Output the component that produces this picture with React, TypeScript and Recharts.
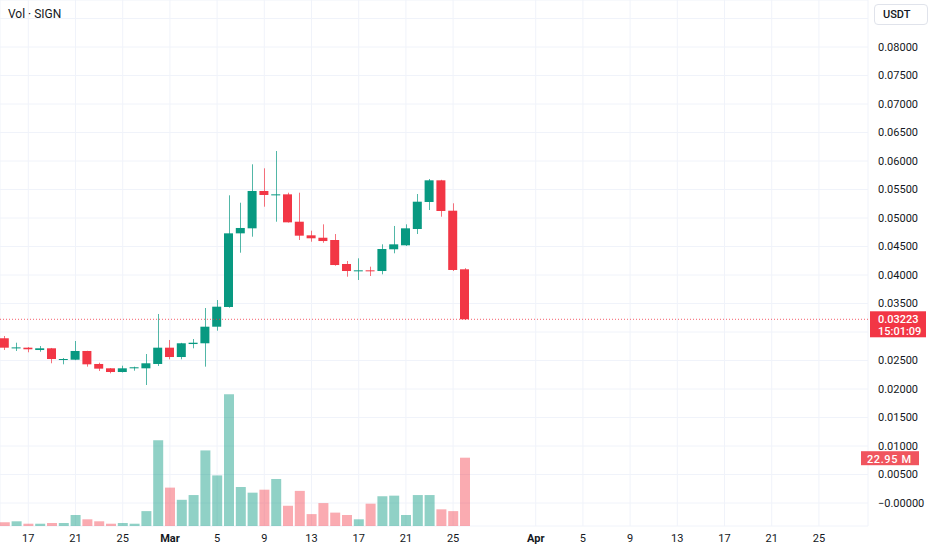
import { ComposedChart, Bar, XAxis, YAxis, CartesianGrid, ReferenceLine, Cell } from "recharts";

const GREEN = "#089981";
const RED = "#f23645";
const TEXT = "#131722";

// daily candles, Feb 15 – Mar 26
const dates = [
  "Feb 15", "Feb 16", "Feb 17", "Feb 18", "Feb 19", "Feb 20", "Feb 21", "Feb 22", "Feb 23", "Feb 24",
  "Feb 25", "Feb 26", "Feb 27", "Feb 28", "Mar 1", "Mar 2", "Mar 3", "Mar 4", "Mar 5", "Mar 6",
  "Mar 7", "Mar 8", "Mar 9", "Mar 10", "Mar 11", "Mar 12", "Mar 13", "Mar 14", "Mar 15", "Mar 16",
  "Mar 17", "Mar 18", "Mar 19", "Mar 20", "Mar 21", "Mar 22", "Mar 23", "Mar 24", "Mar 25", "Mar 26",
];
const opens = [
  0.0289, 0.0272, 0.02725, 0.02684, 0.02714, 0.02514, 0.02514, 0.02667, 0.02439, 0.02363,
  0.02298, 0.02363, 0.02363, 0.02439, 0.02725, 0.02561, 0.02789, 0.02802, 0.03093, 0.03439,
  0.04731, 0.04819, 0.05474, 0.05398, 0.05415, 0.04935, 0.04696, 0.04654, 0.04614, 0.04193,
  0.04065, 0.04082, 0.0407, 0.04451, 0.04521, 0.04807, 0.05281, 0.05661, 0.05128, 0.041,
];
const highs = [
  0.0293, 0.02812, 0.02735, 0.02754, 0.0272, 0.02544, 0.02842, 0.0267, 0.02461, 0.02368,
  0.02409, 0.02392, 0.02614, 0.03316, 0.0286, 0.0281, 0.02877, 0.03421, 0.03561, 0.05398,
  0.05268, 0.05942, 0.05872, 0.06175, 0.05444, 0.05444, 0.04777, 0.04889, 0.04719, 0.04246,
  0.04293, 0.04146, 0.04538, 0.0486, 0.04889, 0.05421, 0.05684, 0.0567, 0.05258, 0.0412,
];
const lows = [
  0.02684, 0.02667, 0.02644, 0.02654, 0.02451, 0.02433, 0.02505, 0.02392, 0.02316, 0.02275,
  0.0229, 0.02321, 0.0207, 0.02404, 0.02521, 0.02521, 0.02714, 0.02392, 0.03023, 0.03426,
  0.04391, 0.04672, 0.05198, 0.04935, 0.0492, 0.04614, 0.04584, 0.04566, 0.04163, 0.0397,
  0.03912, 0.03982, 0.04012, 0.04381, 0.04509, 0.04719, 0.0514, 0.05023, 0.0407, 0.0321,
];
const closes = [
  0.02725, 0.0273, 0.02697, 0.02714, 0.02526, 0.02526, 0.02667, 0.02433, 0.02357, 0.02298,
  0.02363, 0.02381, 0.02451, 0.02725, 0.02561, 0.02802, 0.02812, 0.03093, 0.03444, 0.04731,
  0.04825, 0.05474, 0.05404, 0.05415, 0.04924, 0.0469, 0.04644, 0.04596, 0.04175, 0.0407,
  0.04082, 0.04065, 0.04456, 0.04538, 0.04819, 0.05286, 0.05661, 0.05123, 0.04088, 0.03223,
];
// volume in millions
const volumes = [
  1.24, 1.58, 0.77, 0.77, 1.0, 1.0, 3.7, 2.25, 1.58, 0.77,
  1.0, 0.77, 5.0, 28.8, 12.9, 8.8, 10.4, 25.4, 17.0, 44.3,
  13.1, 11.2, 12.2, 15.8, 6.8, 11.8, 4.0, 7.7, 4.5, 3.7,
  2.25, 7.5, 10.0, 10.2, 3.7, 10.4, 10.4, 5.6, 5.0, 22.95,
];

const priceTicks = [
  0, 0.005, 0.01, 0.015, 0.02, 0.025, 0.03, 0.035, 0.04, 0.045,
  0.05, 0.055, 0.06, 0.065, 0.07, 0.075, 0.08, 0.085,
];
const hiddenPriceLabels = [0.03, 0.085];
// day index 0 = Feb 15
const dayTicks = [2, 6, 10, 14, 18, 22, 26, 30, 34, 38, 45, 49, 53, 57, 61, 65, 69];
const dayTickLabels = ["17", "21", "25", "Mar", "5", "9", "13", "17", "21", "25", "Apr", "5", "9", "13", "17", "21", "25"];

const lastPrice = 0.03223;
const lastVolume = 22.95;
const countdown = "15:01:09";

const rows = dates.map((date, i) => ({
  day: i,
  date,
  open: opens[i],
  high: highs[i],
  low: lows[i],
  close: closes[i],
  range: [lows[i], highs[i]],
  vol: volumes[i],
  up: closes[i] >= opens[i],
}));

function Candle(props: any) {
  const { x, y, width, height, payload } = props;
  if (!payload || !height) return null;
  const color = payload.up ? GREEN : RED;
  const perUnit = height / (payload.high - payload.low);
  const yOf = (v: number) => y + (payload.high - v) * perUnit;
  const top = yOf(Math.max(payload.open, payload.close));
  const bottom = yOf(Math.min(payload.open, payload.close));
  const cx = Math.round(x + width / 2) + 0.5;
  return (
    <g>
      <line x1={cx} x2={cx} y1={y} y2={y + height} stroke={color} strokeOpacity={0.7} strokeWidth={1} />
      <rect x={x} y={top} width={width} height={Math.max(1, bottom - top)} fill={color} />
    </g>
  );
}

function PriceTick(props: any) {
  const { x, y, payload } = props;
  const v = payload.value;
  if (hiddenPriceLabels.some((h) => Math.abs(h - v) < 1e-9)) return null;
  const label = Math.abs(v) < 1e-9 ? "−0.00000" : v.toFixed(5);
  return (
    <text x={x} y={y} dy="0.35em" fill={TEXT} fontSize={11} textAnchor="start">
      {label}
    </text>
  );
}

function DayTick(props: any) {
  const { x, y, payload } = props;
  const idx = dayTicks.indexOf(payload.value);
  const label = dayTickLabels[idx] ?? "";
  const isMonth = label === "Mar" || label === "Apr";
  return (
    <text x={x} y={y} dy="0.71em" fill={TEXT} fontSize={11} textAnchor="middle" fontWeight={isMonth ? 700 : 400}>
      {label}
    </text>
  );
}

function PriceLabel(props: any) {
  const vb = props.viewBox;
  if (!vb) return null;
  const left = vb.x + vb.width + 2;
  return (
    <g>
      <rect x={left} y={vb.y - 8} width={56} height={26} fill={RED} />
      <text x={left + 8} y={vb.y} dy="0.35em" fill="#fff" fontSize={11} fontWeight={500}>
        {lastPrice.toFixed(5)}
      </text>
      <text x={left + 8} y={vb.y + 12} dy="0.35em" fill="#fff" fontSize={11} fontWeight={500}>
        {countdown}
      </text>
    </g>
  );
}

function VolumeLabel(props: any) {
  const vb = props.viewBox;
  if (!vb) return null;
  const left = vb.x + vb.width - 7;
  return (
    <g>
      <rect x={left} y={vb.y - 6.5} width={58} height={14} fill="#f0555e" />
      <text x={left + 6} y={vb.y + 1} dy="0.35em" fill="#fff" fontSize={11} fontWeight={500} letterSpacing={0.6}>
        {`${lastVolume.toFixed(2)} M`}
      </text>
    </g>
  );
}

const dayDomain = [-0.398, 73.16];

export default function App() {
  return (
    <div style={{ position: "relative", width: 932, height: 550, fontFamily: "Roboto, 'Noto Sans', sans-serif", background: "#fff" }}>
      <style>{`body{margin:0}`}</style>
      <ComposedChart width={932} height={550} data={rows} margin={{ top: 0, right: 0, bottom: 0, left: 0 }}>
        <CartesianGrid xAxisId="x" yAxisId="price" stroke="#f0f3fa" />
        <XAxis
          xAxisId="x"
          dataKey="day"
          type="number"
          domain={dayDomain}
          allowDataOverflow
          ticks={dayTicks}
          tick={<DayTick />}
          axisLine={false}
          tickLine={false}
          height={24}
          interval={0}
        />
        <XAxis xAxisId="xv" dataKey="day" type="number" domain={dayDomain} allowDataOverflow hide />
        <YAxis
          yAxisId="price"
          orientation="right"
          type="number"
          domain={[-0.004035, 0.088246]}
          allowDataOverflow
          ticks={priceTicks}
          tick={<PriceTick />}
          axisLine={false}
          tickLine={false}
          tickMargin={4}
          width={64}
          interval={0}
        />
        <YAxis yAxisId="vol" type="number" domain={[0, 176.75]} allowDataOverflow hide />
        <Bar xAxisId="xv" yAxisId="vol" dataKey="vol" barSize={10} isAnimationActive={false}>
          {rows.map((r) => (
            <Cell key={r.date} fill={r.up ? "rgba(8,153,129,0.45)" : "rgba(242,54,69,0.42)"} />
          ))}
        </Bar>
        <ReferenceLine
          xAxisId="x"
          yAxisId="price"
          y={lastPrice}
          stroke={RED}
          strokeDasharray="1 2"
          strokeOpacity={0.8}
          label={<PriceLabel />}
        />
        <Bar xAxisId="x" yAxisId="price" dataKey="range" barSize={9} shape={<Candle />} isAnimationActive={false} />
        <ReferenceLine
          xAxisId="xv"
          yAxisId="vol"
          y={lastVolume}
          stroke="none"
          strokeOpacity={0}
          label={<VolumeLabel />}
        />
      </ComposedChart>
      <div style={{ position: "absolute", left: 8, top: 6, fontSize: 12, lineHeight: "16px", color: TEXT }}>Vol · SIGN</div>
      <div
        style={{
          position: "absolute",
          left: 874,
          top: 4,
          width: 54,
          height: 21,
          boxSizing: "border-box",
          border: "1px solid #e0e3eb",
          borderRadius: 4,
          background: "#fff",
          fontSize: 11,
          fontWeight: 500,
          lineHeight: "19px",
          color: TEXT,
          paddingLeft: 8,
        }}
      >
        USDT
      </div>
    </div>
  );
}
